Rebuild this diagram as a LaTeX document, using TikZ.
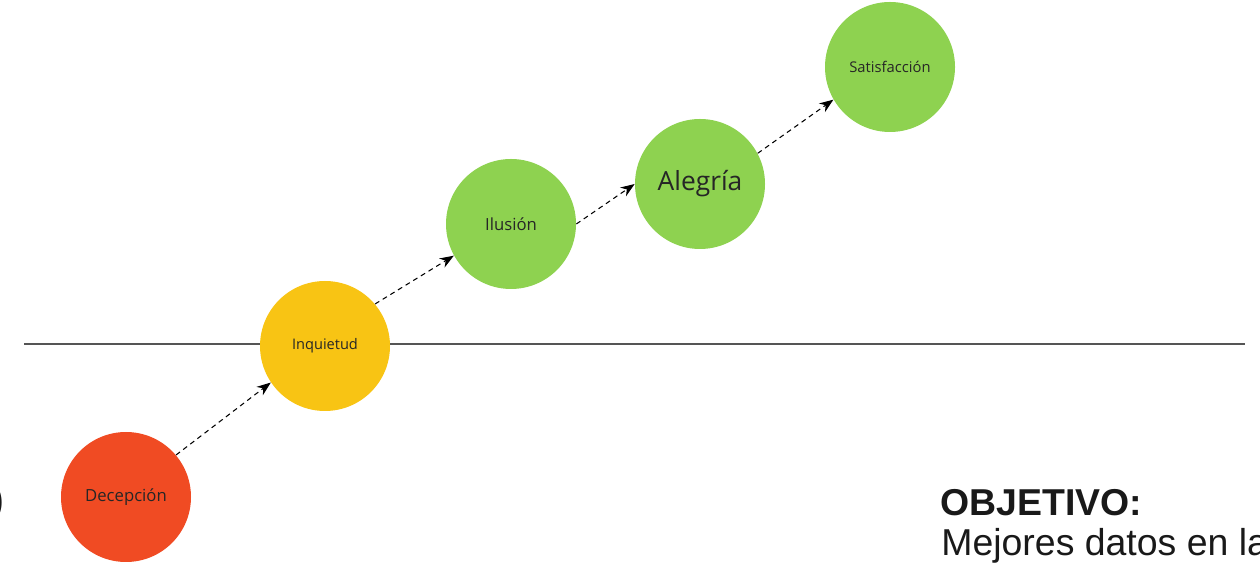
\documentclass[tikz,border=0pt]{standalone}
\usepackage{fontspec}
\usepackage{tikz}
\usetikzlibrary{positioning, arrows.meta}
\setmainfont{Liberation Sans}
\newfontfamily\moodfont{Open Sans}
\definecolor{sadred}{HTML}{F04B23}
\definecolor{worryyellow}{HTML}{F8C414}
\definecolor{happygreen}{HTML}{8ED250}
\definecolor{linegray}{HTML}{555555}

\begin{document}
\begin{tikzpicture}[
mood/.style={circle, fill=#1, draw=none, minimum size=2.6cm, inner sep=0pt, text=black!85, font=\moodfont},
step arrow/.style={-{Stealth[length=8pt, width=6pt]}, line width=0.6pt, dash pattern=on 2.8pt off 2.3pt},
goaltext/.style={inner sep=0pt, font=\fontsize{21.3}{23}\selectfont, text=black!90},
on grid
]
\useasboundingbox (0,0) rectangle (25.2,-11.3);

%Line
\coordinate (lineL) at (0.48,-6.88);
\coordinate (lineR) at (24.9,-6.88);
\draw[linegray, line width=0.9pt] (lineL) -- (lineR);

%Nodes
\node[mood=sadred]       (dec)   at (2.52,-9.94)                  {\fontsize{9.5}{11}\selectfont Decepción};
\node[mood=worryyellow]  (inq)   [above right=3.02cm and 3.98cm of dec] {\fontsize{8.3}{10}\selectfont Inquietud};
\node[mood=happygreen]   (ilu)   [above right=2.44cm and 3.72cm of inq] {\fontsize{9.5}{11}\selectfont Ilusión};
\node[mood=happygreen]   (ale)   [above right=0.8cm and 3.78cm of ilu]  {\fontsize{15}{17}\selectfont Alegría};
\node[mood=happygreen]   (sat)   [above right=2.34cm and 3.8cm of ale]  {\fontsize{8.4}{10}\selectfont Satisfacción};

%Text
\node[goaltext, anchor=base west] (obj) at (18.8,-10.32) {\textbf{OBJETIVO:}};
\node[goaltext, anchor=base west] (mej) at (18.82,-11.12) {Mejores datos en la};
\node[goaltext, anchor=base east] (cut) at (0.08,-10.26)  {\textbf{)}};

%Arrows
\draw[step arrow] (dec.40) -- (inq.214);
\draw[step arrow] (inq.40) -- (ilu.209);
\draw[step arrow] (ilu.0)  -- (ale.180);
\draw[step arrow] (ale.28) -- (sat.210);
\end{tikzpicture}
\end{document}
